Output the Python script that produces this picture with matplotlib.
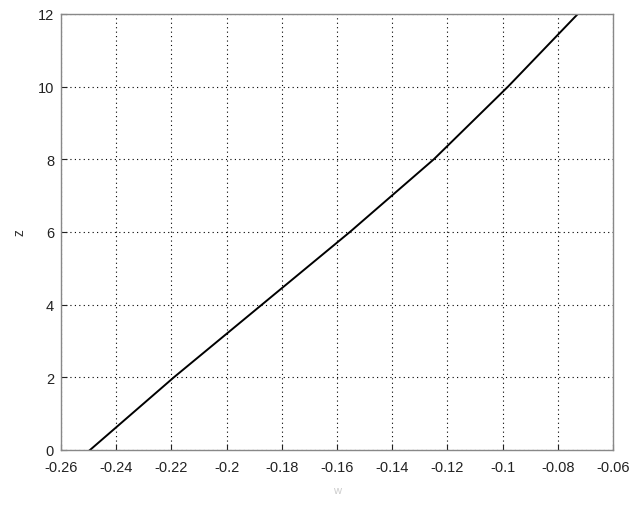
import numpy as np
import matplotlib
matplotlib.use("Agg")
import matplotlib.pyplot as plt

# values
z = [0, 2, 4, 6, 8, 10, 12]
w = [-0.2495, -0.2191, -0.1872, -0.1553, -0.1249, -0.0980, -0.0727]

xticks = [-0.26, -0.24, -0.22, -0.2, -0.18, -0.16, -0.14, -0.12, -0.1, -0.08, -0.06]
xticklabels = ['-0.26', '-0.24', '-0.22', '-0.2', '-0.18', '-0.16', '-0.14',
               '-0.12', '-0.1', '-0.08', '-0.06']
yticks = [0, 2, 4, 6, 8, 10, 12]

plt.rcParams['font.family'] = ['Liberation Sans', 'DejaVu Sans']

fig = plt.figure(figsize=(6.33, 5.06), dpi=100)
ax = fig.add_axes([0.0964, 0.1087, 0.872, 0.862])

ax.plot(w, z, color='black', linewidth=1.4)

ax.set_xlim(-0.26, -0.06)
ax.set_ylim(0, 12)
ax.set_xticks(xticks)
ax.set_xticklabels(xticklabels)
ax.set_yticks(yticks)
ax.tick_params(direction='in', length=4, labelsize=10.5, colors='#222222')
ax.tick_params(axis='x', pad=7)
ax.tick_params(axis='y', pad=5)
ax.grid(True, color='black', linestyle=(0, (1, 3)), linewidth=0.8)

for s in ax.spines.values():
    s.set_color('#888888')
    s.set_linewidth(1.0)

ax.set_ylabel('z', fontsize=10, color='#333333', labelpad=8)
ax.set_xlabel('w', fontsize=8, color='#cccccc', labelpad=8)

fig.savefig('out.png', dpi=100)
